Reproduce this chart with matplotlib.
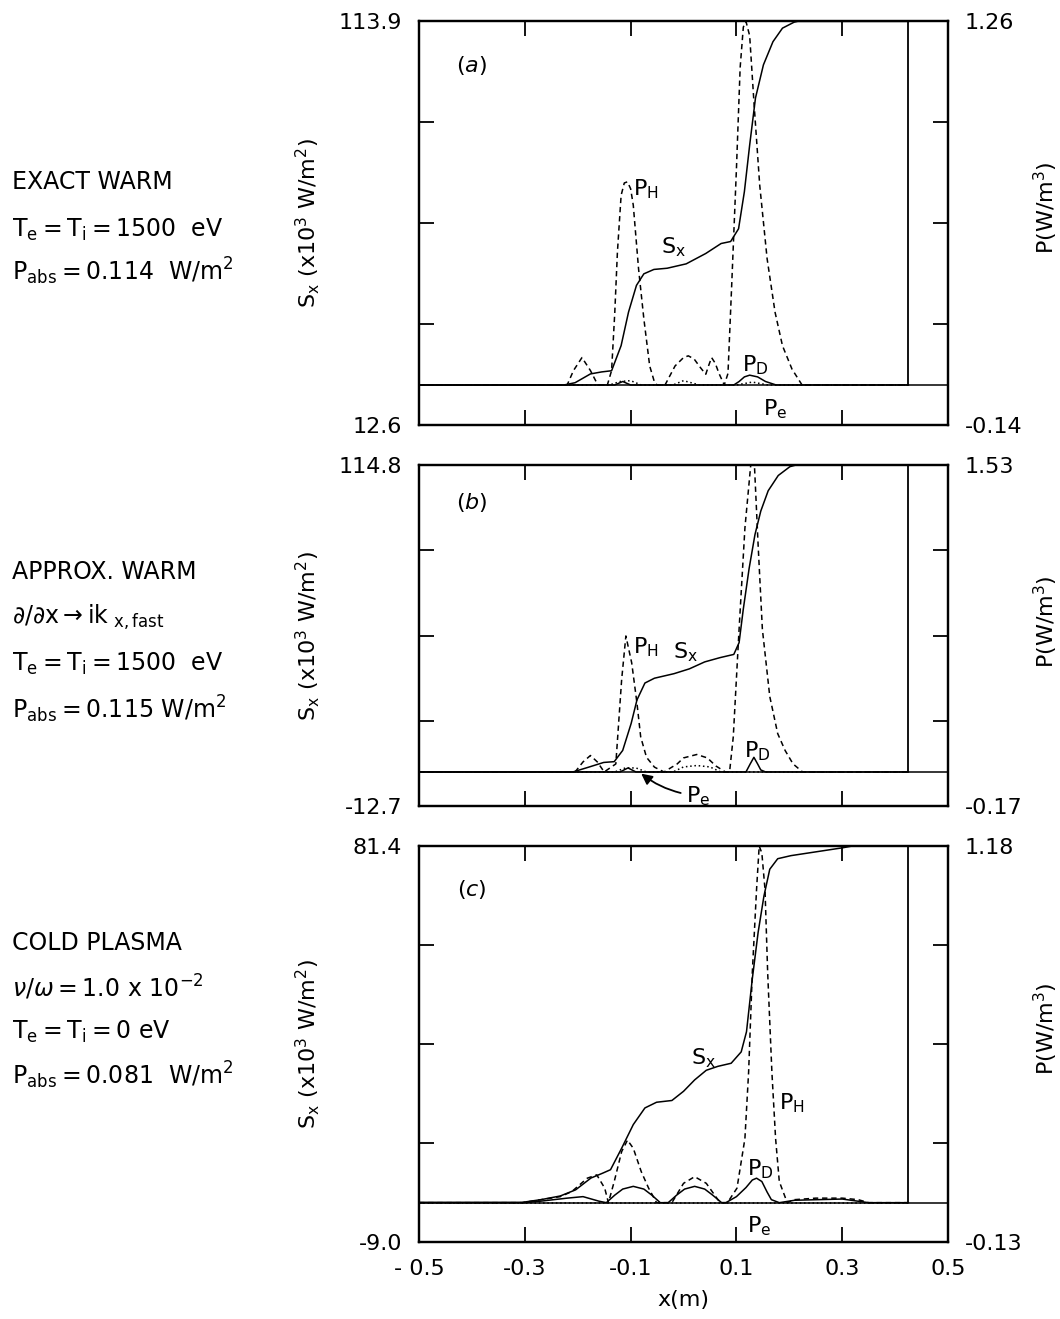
import numpy as np
import matplotlib.pyplot as plt

plt.rcParams['font.family'] = ['DejaVu Sans']
plt.rcParams['mathtext.fontset'] = 'dejavusans'

# x position of the wall (m)
wall_x = 0.425

# ---------- panel (a) exact warm ----------
sa_lim = (12.6, 113.9)
pa_lim = (-0.14, 1.26)
sa_x = [-0.5, -0.227, -0.205, -0.176, -0.155, -0.136, -0.118, -0.104, -0.089, -0.075, -0.056,
        -0.031, 0.005, 0.042, 0.071, 0.089, 0.104, 0.115, 0.125, 0.136, 0.151, 0.169, 0.187,
        0.209, 0.216, 0.425]
sa_y = [22.7, 22.7, 23.3, 25.5, 26.0, 26.3, 32.6, 41.0, 47.7, 50.6, 51.7,
        52.0, 53.1, 55.7, 58.2, 58.7, 61.9, 71.2, 82.9, 94.7, 103.0, 108.8, 112.2,
        113.7, 113.9, 113.9]
ha_x = [-0.5, -0.220, -0.208, -0.192, -0.176, -0.162, -0.144, -0.136, -0.130, -0.125, -0.118,
        -0.112, -0.106, -0.100, -0.095, -0.085, -0.075, -0.064, -0.055, -0.050, -0.035, -0.016,
        0.000, 0.009, 0.020, 0.032, 0.042, 0.048, 0.053, 0.060, 0.067, 0.077, 0.084, 0.091,
        0.100, 0.107, 0.113, 0.118, 0.125, 0.133, 0.144, 0.158, 0.173, 0.187, 0.205, 0.224, 0.425]
ha_y = [0, 0, 0.05, 0.095, 0.05, 0, 0, 0.05, 0.25, 0.46, 0.657,
        0.70, 0.704, 0.68, 0.623, 0.402, 0.229, 0.066, 0.01, 0, 0, 0.066,
        0.095, 0.101, 0.09, 0.06, 0.037, 0.07, 0.095, 0.075, 0.04, 0, 0.04, 0.345,
        0.75, 1.10, 1.24, 1.26, 1.21, 0.982, 0.692, 0.437, 0.252, 0.136, 0.055, 0, 0]
da_x = [-0.5, -0.13, -0.115, -0.10, 0.095, 0.105, 0.115, 0.125, 0.140, 0.155, 0.175, 0.425]
da_y = [0, 0, 0.012, 0, 0, 0.012, 0.028, 0.034, 0.028, 0.012, 0, 0]
ea_x = [-0.5, -0.14, -0.12, -0.10, -0.08, -0.02, 0.0, 0.03, 0.10, 0.13, 0.16, 0.425]
ea_y = [0, 0, 0.012, 0.015, 0, 0, 0.015, 0, 0, 0.01, 0, 0]

# ---------- panel (b) approx. warm ----------
sb_lim = (-12.7, 114.8)
pb_lim = (-0.17, 1.53)
sb_x = [-0.5, -0.209, -0.180, -0.151, -0.131, -0.115, -0.099, -0.088, -0.073, -0.055, -0.018,
        0.011, 0.040, 0.069, 0.095, 0.105, 0.113, 0.124, 0.135, 0.146, 0.160, 0.179, 0.201,
        0.212, 0.425]
sb_y = [0.05, 0.05, 1.8, 3.6, 3.9, 8.1, 18.2, 27.0, 33.3, 35.1, 36.8,
        38.6, 41.2, 42.8, 44.0, 48.4, 61.0, 76.2, 88.8, 97.6, 105.2, 110.9, 114.2,
        114.8, 114.8]
hb_x = [-0.5, -0.205, -0.19, -0.176, -0.163, -0.150, -0.128, -0.117, -0.109, -0.098, -0.088,
        -0.081, -0.070, -0.055, -0.037, -0.012, 0.000, 0.025, 0.045, 0.061, 0.079, 0.087,
        0.094, 0.105, 0.116, 0.127, 0.134, 0.141, 0.149, 0.163, 0.178, 0.192, 0.207, 0.225, 0.425]
hb_y = [0, 0, 0.05, 0.082, 0.05, 0, 0.04, 0.46, 0.678, 0.544, 0.342,
        0.175, 0.073, 0.024, 0, 0.04, 0.07, 0.087, 0.07, 0.03, 0, 0,
        0.175, 0.712, 1.216, 1.53, 1.53, 1.13, 0.712, 0.376, 0.191, 0.107, 0.04, 0, 0]
db_x = [-0.5, -0.12, -0.105, -0.09, 0.118, 0.126, 0.133, 0.140, 0.146, 0.155, 0.425]
db_y = [0, 0, 0.02, 0, 0, 0.04, 0.073, 0.04, 0.01, 0, 0]
eb_x = [-0.5, -0.13, -0.11, -0.09, -0.07, -0.02, 0.0, 0.025, 0.05, 0.07, 0.425]
eb_y = [0, 0, 0.02, 0.02, 0, 0, 0.025, 0.032, 0.025, 0, 0]

# ---------- panel (c) cold plasma ----------
sc_lim = (-9.0, 81.4)
pc_lim = (-0.13, 1.18)
sc_x = [-0.5, -0.305, -0.269, -0.233, -0.204, -0.175, -0.153, -0.138, -0.117, -0.095, -0.073,
        -0.051, -0.022, 0.000, 0.021, 0.043, 0.065, 0.090, 0.109, 0.119, 0.130, 0.141, 0.152,
        0.163, 0.178, 0.203, 0.301, 0.319, 0.425]
sc_y = [0.04, 0.04, 0.67, 1.5, 2.9, 5.6, 6.7, 7.5, 12.4, 17.8, 21.6,
        22.9, 23.3, 25.4, 28.0, 30.2, 31.1, 31.8, 34.4, 39.0, 51.1, 61.7, 70.0,
        76.1, 78.5, 79.2, 81.0, 81.4, 81.4]
hc_x = [-0.5, -0.305, -0.269, -0.233, -0.211, -0.182, -0.164, -0.149, -0.142, -0.131, -0.117,
        -0.106, -0.095, -0.080, -0.066, -0.051, -0.022, 0.000, 0.021, 0.043, 0.069, 0.083,
        0.101, 0.116, 0.123, 0.130, 0.138, 0.143, 0.148, 0.154, 0.159, 0.167, 0.174, 0.181,
        0.196, 0.21, 0.25, 0.30, 0.33, 0.35, 0.425]
hc_y = [0, 0, 0.01, 0.02, 0.037, 0.081, 0.092, 0.048, 0, 0.07, 0.169,
        0.207, 0.18, 0.103, 0.048, 0, 0, 0.064, 0.086, 0.064, 0, 0,
        0.048, 0.212, 0.432, 0.762, 1.036, 1.18, 1.157, 1.036, 0.762, 0.432, 0.212, 0.07,
        0, 0.01, 0.015, 0.015, 0.01, 0, 0]
dc_x = [-0.5, -0.30, -0.27, -0.22, -0.19, -0.16, -0.146, -0.130, -0.115, -0.095, -0.075,
        -0.060, -0.044, -0.029, -0.013, 0.002, 0.021, 0.040, 0.055, 0.072, 0.080, 0.100,
        0.118, 0.130, 0.138, 0.148, 0.158, 0.166, 0.181, 0.21, 0.30, 0.35, 0.425]
dc_y = [0, 0, 0.005, 0.015, 0.02, 0.005, 0, 0.025, 0.045, 0.054, 0.045,
        0.025, 0, 0, 0.025, 0.045, 0.054, 0.045, 0.025, 0, 0, 0.02,
        0.05, 0.075, 0.081, 0.07, 0.035, 0.01, 0, 0.008, 0.012, 0, 0]
ec_x = [-0.5, 0.425]
ec_y = [0, 0]

x_ticks = [-0.5, -0.3, -0.1, 0.1, 0.3, 0.5]
x_tick_labels = ['- 0.5', '-0.3', '-0.1', '0.1', '0.3', '0.5']

panels = [
    dict(pos=[0.3953, 0.6775, 0.4991, 0.3063], slim=sa_lim, plim=pa_lim,
         slab=('12.6', '113.9'), plab=('-0.14', '1.26'),
         s=(sa_x, sa_y), h=(ha_x, ha_y), d=(da_x, da_y), e=(ea_x, ea_y), tag='a'),
    dict(pos=[0.3953, 0.3889, 0.4991, 0.2585], slim=sb_lim, plim=pb_lim,
         slab=('-12.7', '114.8'), plab=('-0.17', '1.53'),
         s=(sb_x, sb_y), h=(hb_x, hb_y), d=(db_x, db_y), e=(eb_x, eb_y), tag='b'),
    dict(pos=[0.3953, 0.0584, 0.4991, 0.3002], slim=sc_lim, plim=pc_lim,
         slab=('-9.0', '81.4'), plab=('-0.13', '1.18'),
         s=(sc_x, sc_y), h=(hc_x, hc_y), d=(dc_x, dc_y), e=(ec_x, ec_y), tag='c'),
]

fig = plt.figure(figsize=(10.6, 13.19), dpi=100)
fs = 16
lw = 1.1

for i, p in enumerate(panels):
    ax = fig.add_axes(p['pos'])
    axr = ax.twinx()
    ax.set_xlim(-0.5, 0.5)
    ax.set_ylim(*p['slim'])
    axr.set_ylim(*p['plim'])

    axr.axhline(0, color='black', lw=lw)
    axr.vlines(wall_x, 0, p['plim'][1], color='black', lw=1.3)
    ax.plot(*p['s'], color='black', lw=lw)
    axr.plot(*p['h'], color='black', lw=lw, ls=(0, (3.5, 2.5)))
    axr.plot(*p['d'], color='black', lw=lw)
    axr.plot(*p['e'], color='black', lw=lw, ls=(0, (1, 1.8)))

    s_ticks = np.linspace(p['slim'][0], p['slim'][1], 5)
    p_ticks = np.linspace(p['plim'][0], p['plim'][1], 5)
    ax.set_yticks(s_ticks, [p['slab'][0], '', '', '', p['slab'][1]])
    axr.set_yticks(p_ticks, [p['plab'][0], '', '', '', p['plab'][1]])
    ax.set_xticks(x_ticks)
    if i == 2:
        ax.set_xticklabels(x_tick_labels)
        ax.set_xlabel('x(m)', fontsize=fs, labelpad=8)
    else:
        ax.set_xticklabels([])
    ax.tick_params(axis='both', direction='in', length=11, width=1.3, labelsize=fs,
                   top=True, right=False, pad=12)
    axr.tick_params(axis='y', direction='in', length=11, width=1.3, labelsize=fs, pad=12)
    for a in (ax, axr):
        for sp in a.spines.values():
            sp.set_linewidth(1.6)

    ax.set_ylabel(r'$\mathrm{S_x\ (x10^3\ W/m^2)}$', fontsize=fs)
    ax.yaxis.set_label_coords(-0.183, 0.5)
    axr.set_ylabel(r'$\mathrm{P(W/m^3)}$', fontsize=fs)
    axr.yaxis.set_label_coords(1.158, 0.54)

    ax.text(0.10, 0.89, r'$(%s)$' % p['tag'], transform=ax.transAxes, fontsize=fs,
            ha='center', va='center')

# in-plot labels
axes = fig.axes
a_l, b_l, c_l = axes[0], axes[2], axes[4]
lab = dict(fontsize=fs, ha='left', va='center')
a_l.text(0.405, 0.585, r'$\mathrm{P_H}$', transform=a_l.transAxes, **lab)
a_l.text(0.458, 0.44, r'$\mathrm{S_x}$', transform=a_l.transAxes, **lab)
a_l.text(0.61, 0.15, r'$\mathrm{P_D}$', transform=a_l.transAxes, **lab)
a_l.text(0.65, 0.04, r'$\mathrm{P_e}$', transform=a_l.transAxes, **lab)

b_l.text(0.405, 0.465, r'$\mathrm{P_H}$', transform=b_l.transAxes, **lab)
b_l.text(0.48, 0.45, r'$\mathrm{S_x}$', transform=b_l.transAxes, **lab)
b_l.text(0.615, 0.16, r'$\mathrm{P_D}$', transform=b_l.transAxes, **lab)
b_l.annotate(r'$\mathrm{P_e}$', xy=(0.42, 0.095), xycoords='axes fraction',
             xytext=(0.505, 0.03), textcoords='axes fraction', fontsize=fs,
             ha='left', va='center',
             arrowprops=dict(arrowstyle='-|>', color='black', lw=1.3,
                             connectionstyle='arc3,rad=-0.15', shrinkA=2, shrinkB=0))

c_l.text(0.515, 0.465, r'$\mathrm{S_x}$', transform=c_l.transAxes, **lab)
c_l.text(0.68, 0.35, r'$\mathrm{P_H}$', transform=c_l.transAxes, **lab)
c_l.text(0.62, 0.185, r'$\mathrm{P_D}$', transform=c_l.transAxes, **lab)
c_l.text(0.62, 0.04, r'$\mathrm{P_e}$', transform=c_l.transAxes, **lab)

# case descriptions on the left
left_txt = [
    (182, 'EXACT WARM'),
    (230, r'$\mathrm{T_e = T_i = 1500\ \ eV}$'),
    (271, r'$\mathrm{P_{abs} = 0.114\ \ W/m^2}$'),
    (572, 'APPROX. WARM'),
    (617, r'$\partial/\partial \mathrm{x} \rightarrow \mathrm{ik}_{\ \mathrm{x,fast}}$'),
    (664, r'$\mathrm{T_e = T_i = 1500\ \ eV}$'),
    (709, r'$\mathrm{P_{abs} = 0.115\ W/m^2}$'),
    (943, 'COLD PLASMA'),
    (987, r'$\nu/\omega = \mathrm{1.0\ x\ 10^{-2}}$'),
    (1032, r'$\mathrm{T_e = T_i = 0\ eV}$'),
    (1075, r'$\mathrm{P_{abs} = 0.081\ \ W/m^2}$'),
]
for py, t in left_txt:
    fig.text(12 / 1060, 1 - py / 1319, t, fontsize=17, ha='left', va='center')

fig.savefig('out.png', dpi=100, facecolor='white')
